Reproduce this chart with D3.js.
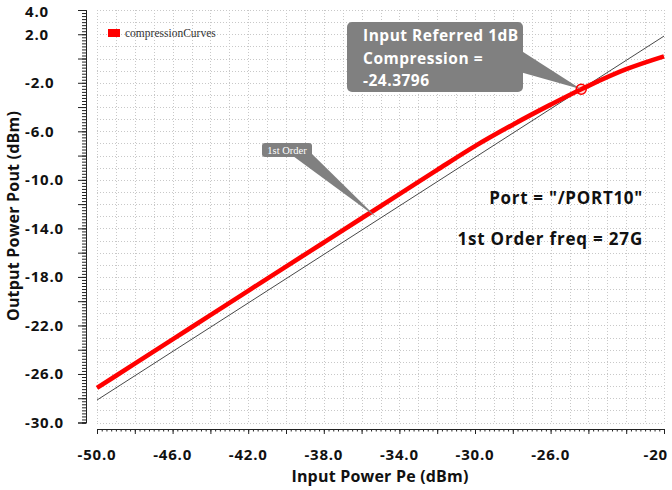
<!DOCTYPE html>
<html><head><meta charset="utf-8">
<script src="https://cdn.jsdelivr.net/npm/d3@7"></script>
<style>
html,body{margin:0;padding:0;background:#fff;}
svg{display:block;}
</style></head>
<body>
<svg id="chart" width="672" height="490"></svg>
<script>
// ---- data ----
const inputPower = [-50, -48, -46, -44, -42, -40, -38, -36, -34, -32, -30, -28, -26, -24.38, -24, -22, -20];
const outputPower = [-27.15, -25.15, -23.15, -21.15, -19.15, -17.15, -15.16, -13.17, -11.18, -9.18, -7.22, -5.45, -3.8, -2.53, -2.25, -0.88, 0.18];
const firstOrderX = [-50, -20];
const firstOrderY = [-28.15, 1.85];
const xTickLabels = ["-50.0", "-46.0", "-42.0", "-38.0", "-34.0", "-30.0", "-26.0", "-20"];
const xTickValues = [-50, -46, -42, -38, -34, -30, -26, -20];
const yTickLabels = [4, 2, -2, -6, -10, -14, -18, -22, -26, -30];
const compressionPoint = [-24.3796, -2.53];
const firstOrderAnchor = [-35.2, -13.1];

const svg = d3.select("#chart");
const x = d3.scaleLinear().domain([-50, -20]).range([97, 664]);
const y = d3.scaleLinear().domain([-30, 4]).range([422.5, 10]);
const FONT = "'Open Sans', 'Noto Sans', sans-serif";

// grid
const grid = svg.append("g").attr("stroke", "#c8c8c8").attr("stroke-width", 1).attr("stroke-dasharray", "1,2");
d3.range(-50, -19.99, 1).forEach(v => {
  grid.append("line").attr("x1", Math.round(x(v)) + 0.5).attr("x2", Math.round(x(v)) + 0.5).attr("y1", y(4)).attr("y2", y(-30));
});
d3.range(-30, 4.01, 1).forEach(v => {
  grid.append("line").attr("y1", Math.round(y(v)) + 0.5).attr("y2", Math.round(y(v)) + 0.5).attr("x1", x(-50)).attr("x2", x(-20));
});

// y axis
const yAxisX = 86;
const gy = svg.append("g").attr("transform", `translate(${yAxisX},0)`);
gy.call(d3.axisLeft(y).tickValues(d3.range(-30, 4.001, 0.25)).tickSize(4).tickFormat(""));
gy.append("g").call(d3.axisLeft(y).tickValues(d3.range(-30, 4.001, 2)).tickSize(8).tickFormat(""));
gy.selectAll("path.domain").attr("stroke", "#222");
gy.selectAll(".tick line").attr("stroke", "#222");

svg.append("g").selectAll("text").data(yTickLabels).join("text")
  .attr("x", 25)
  .attr("y", d => Math.max(y(d), 12))
  .attr("dy", "0.36em")
  .attr("font-family", FONT).attr("font-weight", "bold").attr("font-size", 15)
  .attr("letter-spacing", "0.8px")
  .attr("fill", "#111")
  .text(d => d.toFixed(1));

// x axis
const xAxisY = 429;
const gx = svg.append("g").attr("transform", `translate(0,${xAxisY})`);
gx.call(d3.axisBottom(x).tickValues(d3.range(-50, -19.999, 0.25)).tickSize(2.5).tickFormat(""));
gx.append("g").call(d3.axisBottom(x).tickValues(d3.range(-50, -19.999, 2)).tickSize(5).tickFormat(""));
gx.selectAll("path.domain").attr("stroke", "#222");
gx.selectAll(".tick line").attr("stroke", "#222");

svg.append("g").selectAll("text").data(xTickValues).join("text")
  .attr("x", (d, i) => i === xTickValues.length - 1 ? 668 : x(d))
  .attr("y", 460)
  .attr("text-anchor", (d, i) => i === xTickValues.length - 1 ? "end" : "middle")
  .attr("font-family", FONT).attr("font-weight", "bold").attr("font-size", 15)
  .attr("letter-spacing", "0.8px")
  .attr("fill", "#111")
  .text((d, i) => xTickLabels[i]);

// axis titles
svg.append("text").attr("x", 380).attr("y", 482).attr("text-anchor", "middle")
  .attr("font-family", FONT).attr("font-weight", "bold").attr("font-size", 16).attr("fill", "#111")
  .attr("letter-spacing", "0.2px")
  .text("Input Power Pe (dBm)");
svg.append("text").attr("transform", "translate(19,216) rotate(-90)").attr("text-anchor", "middle")
  .attr("font-family", FONT).attr("font-weight", "bold").attr("font-size", 16).attr("fill", "#111")
  .attr("letter-spacing", "0.2px")
  .text("Output Power Pout (dBm)");

// first order line
svg.append("path")
  .datum(firstOrderX.map((v, i) => [v, firstOrderY[i]]))
  .attr("d", d3.line().x(d => x(d[0])).y(d => y(d[1])))
  .attr("fill", "none").attr("stroke", "#333").attr("stroke-width", 0.9);

// compression curve
svg.append("path")
  .datum(inputPower.map((v, i) => [v, outputPower[i]]))
  .attr("d", d3.line().curve(d3.curveMonotoneX).x(d => x(d[0])).y(d => y(d[1])))
  .attr("fill", "none").attr("stroke", "#ff0000").attr("stroke-width", 4.6).attr("stroke-linecap", "butt");

// legend
svg.append("rect").attr("x", 108).attr("y", 29).attr("width", 12).attr("height", 8).attr("fill", "#ff0000");
svg.append("text").attr("x", 125).attr("y", 37)
  .attr("font-family", "'Liberation Serif', 'DejaVu Serif', serif").attr("font-size", 11.5).attr("fill", "#333")
  .text("compressionCurves");

// 1st order annotation
const fa = [x(firstOrderAnchor[0]), y(firstOrderAnchor[1])];
svg.append("path").attr("d", `M293,156 L310,152 L${fa[0]},${fa[1]} Z`).attr("fill", "#808080");
svg.append("rect").attr("x", 262).attr("y", 143).attr("width", 50).attr("height", 14).attr("rx", 3).attr("fill", "#808080");
svg.append("text").attr("x", 287).attr("y", 154).attr("text-anchor", "middle")
  .attr("font-family", "'Liberation Serif', 'DejaVu Serif', serif").attr("font-size", 10.5).attr("fill", "#fff")
  .text("1st Order");

// compression point annotation
const cp = [x(compressionPoint[0]), y(compressionPoint[1])];
svg.append("path").attr("d", `M520,50 L520,72 L${cp[0]},${cp[1]} Z`).attr("fill", "#808080");
svg.append("rect").attr("x", 347).attr("y", 22).attr("width", 176).attr("height", 70).attr("rx", 5).attr("fill", "#808080");
const lines = ["Input Referred 1dB", "Compression =", compressionPoint[0].toString()];
svg.append("g").selectAll("text").data(lines).join("text")
  .attr("x", 363).attr("y", (d, i) => 41 + i * 22.5)
  .attr("font-family", FONT).attr("font-weight", "bold").attr("font-size", 15.5).attr("fill", "#fff")
  .attr("letter-spacing", "0.5px")
  .text(d => d);
svg.append("circle").attr("cx", cp[0]).attr("cy", cp[1]).attr("r", 5)
  .attr("fill", "rgba(255,0,0,0.15)").attr("stroke", "#ff0000").attr("stroke-width", 1.5);

// info text
svg.append("text").attr("x", 643).attr("y", 204).attr("text-anchor", "end")
  .attr("font-family", FONT).attr("font-weight", "bold").attr("font-size", 17).attr("fill", "#111")
  .attr("letter-spacing", "0.7px")
  .text('Port = "/PORT10"');
svg.append("text").attr("x", 643).attr("y", 245).attr("text-anchor", "end")
  .attr("font-family", FONT).attr("font-weight", "bold").attr("font-size", 17).attr("fill", "#111")
  .attr("letter-spacing", "0.8px")
  .text("1st Order freq = 27G");
</script>
</body></html>
